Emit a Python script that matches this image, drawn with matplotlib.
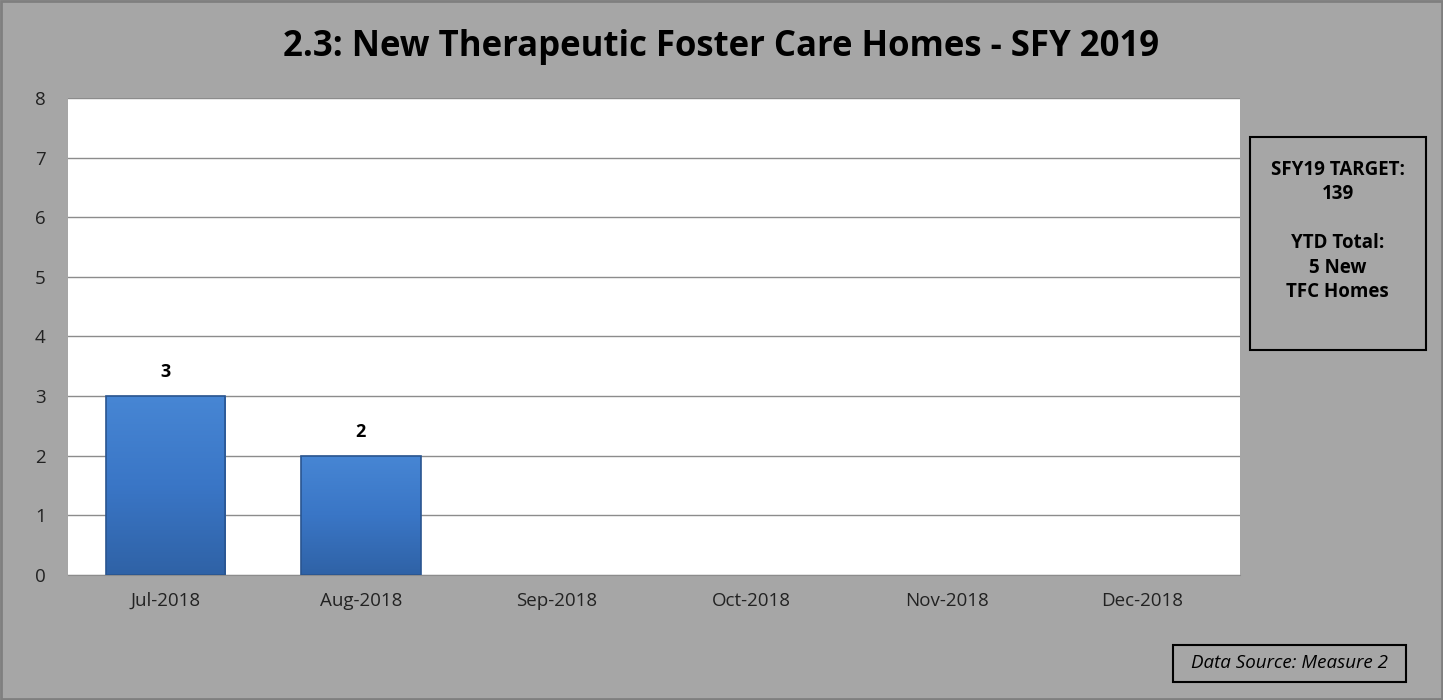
import matplotlib.pyplot as plt
import numpy as np
from matplotlib.patches import Rectangle
from matplotlib.colors import LinearSegmentedColormap

# ---------------- DATOS ----------------
meses = ["Jul-2018", "Aug-2018", "Sep-2018", "Oct-2018", "Nov-2018", "Dec-2018"]
valores = [3, 2, 0, 0, 0, 0]
titulo = "2.3: New Therapeutic Foster Care Homes - SFY 2019"
texto_caja = "SFY19 TARGET:\n139\n\nYTD Total:\n5 New\nTFC Homes"
fuente = "Data Source: Measure 2"

GRIS = "#a6a6a6"
plt.rcParams["font.family"] = ["Open Sans", "DejaVu Sans"]

fig = plt.figure(figsize=(14.43, 7.0), dpi=100, facecolor=GRIS)
ax = fig.add_axes([0.0471, 0.1786, 0.8122, 0.6814])
ax.set_facecolor("white")

x = np.arange(len(meses))
ancho = 0.61
barras = ax.bar(x, valores, width=ancho, color="#3b78c6", linewidth=0, zorder=3)

# degradado vertical dentro de cada barra
grad = np.linspace(0, 1, 256).reshape(-1, 1)
cmap = LinearSegmentedColormap.from_list("b", ["#2f62a6", "#3a76c6", "#4786d4"])
for b, v in zip(barras, valores):
    if v <= 0:
        continue
    x0 = b.get_x()
    im = ax.imshow(grad, extent=[x0, x0 + b.get_width(), 0, v], origin="lower",
                   cmap=cmap, aspect="auto", zorder=3.5)
    im.set_clip_path(b)
    ax.add_patch(Rectangle((x0, 0), b.get_width(), v, fill=False,
                           edgecolor="#2a5590", linewidth=1.2, zorder=4))
    ax.text(b.get_x() + b.get_width() / 2, v + 0.25, str(v), ha="center",
            va="bottom", fontsize=13, fontweight="bold", color="black")

ax.set_xlim(-0.5, len(meses) - 0.5)
ax.set_ylim(0, 8)
ax.set_yticks(range(0, 9))
ax.set_xticks(x)
ax.set_xticklabels(meses)
ax.tick_params(axis="both", length=0, labelsize=13.5, colors="#222222")
ax.tick_params(axis="x", pad=12)
ax.tick_params(axis="y", pad=16)
ax.grid(axis="y", color="#8c8c8c", linewidth=1, zorder=0)
for lado in ["left", "right", "top"]:
    ax.spines[lado].set_visible(False)
ax.spines["bottom"].set_color("#8c8c8c")

fig.text(0.5, 0.933, titulo, ha="center", va="center", fontsize=25,
         fontweight="bold", color="black")

# caja de texto lateral
fig.patches.append(Rectangle((0.866, 0.5), 0.122, 0.304, transform=fig.transFigure,
                             fill=False, edgecolor="black", linewidth=1.5))
fig.text(0.927, 0.67, texto_caja, ha="center", va="center", fontsize=13.5,
         fontweight="bold", linespacing=1.3)

# fuente de datos
fig.patches.append(Rectangle((0.8129, 0.026), 0.1615, 0.053, transform=fig.transFigure,
                             fill=False, edgecolor="black", linewidth=1.5))
fig.text(0.8936, 0.0525, fuente, ha="center", va="center", fontsize=13.5,
         style="italic")

# borde exterior
fig.patches.append(Rectangle((0.0007, 0.001), 0.9986, 0.998, transform=fig.transFigure,
                             fill=False, edgecolor="#7f7f7f", linewidth=2))

plt.savefig("out.png", dpi=100, facecolor=GRIS)
